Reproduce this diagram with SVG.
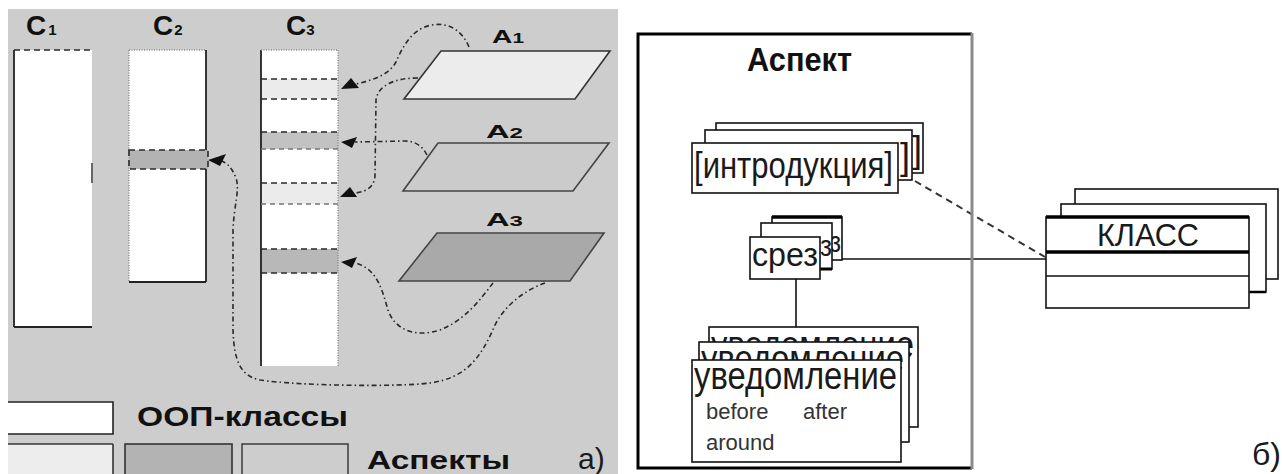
<svg xmlns="http://www.w3.org/2000/svg" width="1282" height="474" viewBox="0 0 1282 474">
<style>
.lbl{font-family:"Liberation Sans",Arial,sans-serif;font-weight:bold;fill:#111}
.txt{font-family:"Liberation Sans",Arial,sans-serif;fill:#1a1a1a}
.small{font-family:"Liberation Sans",Arial,sans-serif;fill:#333;font-size:22px}
.dd{fill:none;stroke:#2a2a2a;stroke-width:1.6;stroke-dasharray:5 3 1.5 3}
.bd{stroke:#2a2a2a;stroke-width:1.6;stroke-dasharray:6 4;fill:none}
.bdl{stroke:#777;stroke-width:1.4;stroke-dasharray:5 4;fill:none}
.dot{stroke:#8a8a8a;stroke-width:1.4;stroke-dasharray:1 1.5;fill:none}
.solid{stroke:#222;stroke-width:1.8;fill:none}
.card{fill:#fff;stroke:#111;stroke-width:1.6}
.head{fill:#111}
.conn{stroke:#111;stroke-width:1.6;fill:none}
</style>
<defs>
<clipPath id="clipAdvBack"><rect x="709" y="327" width="209" height="15"/><rect x="909" y="327" width="9" height="100"/></clipPath>
<clipPath id="clipAdvMid"><rect x="699" y="342" width="210" height="18"/><rect x="901" y="342" width="8" height="100"/></clipPath>
</defs>
<rect x="0" y="0" width="1282" height="474" fill="#fff"/>
<rect x="8" y="9" width="610" height="465" fill="#cdcdcd"/>

<g id="C1">
<rect x="14" y="50" width="78" height="277" fill="#fff"/>
<line x1="14" y1="50" x2="14" y2="327" class="solid"/>
<line x1="14" y1="327" x2="92" y2="327" class="solid"/>
<line x1="14" y1="50" x2="92" y2="50" class="bd"/>
<line x1="92" y1="163" x2="92" y2="183" stroke="#666" stroke-width="2"/>
<text x="26" y="35" class="lbl" font-size="28">C<tspan dx="2" font-size="15">1</tspan></text>
</g>

<g id="C2">
<rect x="129" y="50" width="77" height="232" fill="#fff"/>
<line x1="129" y1="50" x2="129" y2="282" class="dot"/>
<line x1="129" y1="50" x2="206" y2="50" class="dot"/>
<line x1="206" y1="50" x2="206" y2="282" class="solid"/>
<line x1="129" y1="282" x2="206" y2="282" class="solid"/>
<rect x="129" y="150" width="79" height="19" fill="#b3b3b3"/>
<rect x="129" y="150" width="79" height="19" class="bd"/>
<text x="153" y="35" class="lbl" font-size="28">C<tspan dx="1" font-size="15">2</tspan></text>
</g>

<g id="C3">
<rect x="261" y="50" width="77" height="316" fill="#fff"/>
<rect x="261" y="79" width="77" height="20" fill="#ebebeb"/>
<rect x="261" y="132" width="77" height="17" fill="#c2c2c2"/>
<rect x="261" y="183" width="77" height="21" fill="#ebebeb"/>
<rect x="261" y="249" width="77" height="24" fill="#b8b8b8"/>
<line x1="261" y1="50" x2="261" y2="366" class="solid"/>
<line x1="338" y1="50" x2="338" y2="366" class="dot"/>
<line x1="261" y1="50" x2="338" y2="50" class="dot"/>
<line x1="261" y1="79" x2="338" y2="79" class="bd"/>
<line x1="261" y1="99" x2="338" y2="99" class="bd"/>
<line x1="261" y1="132" x2="338" y2="132" class="bd"/>
<line x1="261" y1="149" x2="338" y2="149" class="bdl"/>
<line x1="261" y1="183" x2="338" y2="183" class="bd"/>
<line x1="261" y1="204" x2="338" y2="204" class="bdl"/>
<line x1="261" y1="249" x2="338" y2="249" class="bd"/>
<line x1="261" y1="273" x2="338" y2="273" class="bd"/>
<text x="286" y="35" class="lbl" font-size="28">C<tspan dx="0" font-size="15">3</tspan></text>
</g>

<g id="A1">
<polygon points="441,51 610,51 575,99 404,99" fill="#ececec" stroke="#333" stroke-width="1.6"/>
<text x="492" y="43" class="lbl" font-size="19" textLength="32" lengthAdjust="spacingAndGlyphs">A<tspan font-size="14">1</tspan></text>
</g>
<g id="A2">
<polygon points="438,143 609,143 573,191 403,191" fill="#cbcbcb" stroke="#444" stroke-width="1.6"/>
<text x="486" y="138" class="lbl" font-size="19" textLength="37" lengthAdjust="spacingAndGlyphs">A<tspan font-size="14">2</tspan></text>
</g>
<g id="A3">
<polygon points="437,233 604,233 570,281 399,281" fill="#a9a9a9" stroke="#444" stroke-width="1.6"/>
<text x="486" y="226" class="lbl" font-size="19" textLength="37" lengthAdjust="spacingAndGlyphs">A<tspan font-size="14">3</tspan></text>
</g>

<g id="legend">
<path d="M8,402 H113 V434 H8" fill="#fff" stroke="#222" stroke-width="1.6"/>
<text x="137" y="426" class="lbl" font-size="28" textLength="211" lengthAdjust="spacingAndGlyphs">ООП-классы</text>
<rect x="8" y="444" width="105" height="32" fill="#ededed"/>
<line x1="8" y1="444" x2="113" y2="444" stroke="#333" stroke-width="1.6"/>
<line x1="113" y1="444" x2="113" y2="474" stroke="#333" stroke-width="1.6"/>
<rect x="125" y="444" width="107" height="34" fill="#b3b3b3" stroke="#333" stroke-width="1.6"/>
<rect x="242" y="444" width="106" height="34" fill="#cdcdcd" stroke="#444" stroke-width="1.6"/>
<text x="367" y="469" class="lbl" font-size="26" textLength="143" lengthAdjust="spacingAndGlyphs">Аспекты</text>
<text x="578" y="469" class="txt" font-size="30">а)</text>
</g>

<g id="connectors">
<path class="dd" d="M469,47 C462,30 448,22 432,25 C412,28 402,48 396,62 C388,76 372,80 356,84"/>
<path class="dd" d="M418,78 C395,78 378,85 376,100 L375,175 C375,185 368,192 355,193"/>
<path class="dd" d="M427,155 C422,145 414,141 405,141 L355,142"/>
<path class="dd" d="M493,283 C480,300 465,320 440,330 C415,338 395,330 388,310 C382,290 378,270 356,263"/>
<path class="dd" d="M545,283 C525,290 505,305 495,325 C480,360 465,378 430,383 C400,387 300,386 260,380 C240,376 234,360 233,330 L233,230 C234,205 240,190 236,178 C232,168 228,164 222,161"/>
<polygon class="head" points="341,89 351,78 359,88"/>
<polygon class="head" points="341,142 357,137 352,148"/>
<polygon class="head" points="340,197 350,187 357,197"/>
<polygon class="head" points="341,262 357,257 352,268"/>
<polygon class="head" points="208,160 226,154 220,166"/>
<line class="conn" x1="796" y1="279" x2="796" y2="327"/>
<line class="conn" x1="842" y1="259" x2="1046" y2="259"/>
<line x1="915" y1="181" x2="1045" y2="257" stroke="#333" stroke-width="2" stroke-dasharray="7 5"/>
</g>

<g id="aspect">
<path d="M972,34 H638 V468 H972" fill="none" stroke="#000" stroke-width="3"/>
<line x1="972" y1="33" x2="972" y2="469" stroke="#8a8a8a" stroke-width="3"/>
<text x="747" y="71" class="lbl" font-size="34" textLength="105" lengthAdjust="spacingAndGlyphs">Аспект</text>
</g>

<g id="introduction">
<rect x="716" y="123" width="207" height="50" class="card"/>
<text x="912" y="162" class="txt" font-size="36" fill="#222">]</text>
<rect x="705" y="130" width="207" height="50" class="card"/>
<text x="900" y="169" class="txt" font-size="36" fill="#222">]</text>
<rect x="692" y="143" width="206" height="50" class="card"/>
<text x="694" y="178" class="txt" font-size="36" textLength="199" lengthAdjust="spacingAndGlyphs">[интродукция]</text>
</g>

<g id="pointcut">
<rect x="772" y="217" width="70" height="43" class="card"/>
<line x1="772" y1="217" x2="842" y2="217" stroke="#000" stroke-width="3.5"/>
<text x="830" y="252" class="txt" font-size="30" textLength="11" lengthAdjust="spacingAndGlyphs">з</text>
<rect x="761" y="223" width="71" height="46" class="card"/>
<line x1="818" y1="269" x2="832" y2="269" stroke="#000" stroke-width="3"/>
<text x="820" y="256" class="txt" font-size="30" textLength="12" lengthAdjust="spacingAndGlyphs">з</text>
<rect x="750" y="237" width="70" height="42" class="card"/>
<text x="752" y="266" class="txt" font-size="34" textLength="66" lengthAdjust="spacingAndGlyphs">срез</text>
</g>

<g id="advice">
<rect x="709" y="327" width="209" height="100" class="card"/>
<text x="711" y="358" class="txt" font-size="38" fill="#444" textLength="203" lengthAdjust="spacingAndGlyphs" clip-path="url(#clipAdvBack)">уведомление</text>
<rect x="699" y="342" width="210" height="100" class="card"/>
<text x="701" y="372" class="txt" font-size="38" fill="#333" textLength="203" lengthAdjust="spacingAndGlyphs" clip-path="url(#clipAdvMid)">уведомление</text>
<rect x="692" y="360" width="209" height="102" class="card"/>
<text x="694" y="389" class="txt" font-size="38" textLength="203" lengthAdjust="spacingAndGlyphs">уведомление</text>
<text x="706" y="419" class="small">before</text>
<text x="803" y="419" class="small">after</text>
<text x="706" y="450" class="small">around</text>
</g>

<g id="class">
<rect x="1075" y="189" width="203" height="90" class="card"/>
<rect x="1061" y="204" width="205" height="88" class="card"/>
<line x1="1250" y1="292" x2="1266" y2="292" stroke="#000" stroke-width="2.5"/>
<rect x="1046" y="217" width="203" height="91" class="card"/>
<line x1="1046" y1="217" x2="1249" y2="217" stroke="#000" stroke-width="3.5"/>
<line x1="1046" y1="252" x2="1249" y2="252" stroke="#000" stroke-width="3.5"/>
<line x1="1046" y1="276" x2="1249" y2="276" stroke="#111" stroke-width="1.6"/>
<text x="1097" y="246" class="txt" font-size="32" textLength="102" lengthAdjust="spacingAndGlyphs">КЛАСС</text>
</g>

<text x="1252" y="465" class="txt" font-size="32">б)</text>
</svg>
